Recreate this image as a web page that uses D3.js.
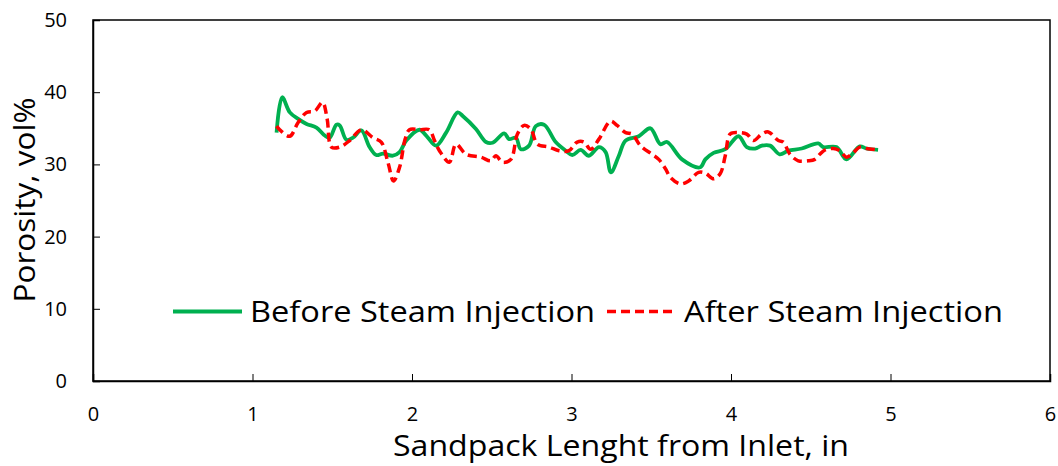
<!DOCTYPE html>
<html>
<head>
<meta charset="utf-8">
<script src="https://cdn.jsdelivr.net/npm/d3@7"></script>
<style>
  body { margin: 0; background: #fff; }
  text { font-family: "Open Sans", Lato, sans-serif; fill: #000; }
</style>
</head>
<body>
<svg id="chart" width="1058" height="466"></svg>
<script>
// Porosity along the sandpack
var beforeX = [1.151, 1.186, 1.234, 1.286, 1.339, 1.401, 1.453, 1.484, 1.526, 1.547, 1.589, 1.63, 1.682, 1.734, 1.776, 1.818, 1.88, 1.922, 1.964, 2.047, 2.089, 2.151, 2.214, 2.286, 2.318, 2.401, 2.464, 2.505, 2.578, 2.609, 2.651, 2.682, 2.734, 2.776, 2.828, 2.901, 2.964, 3.005, 3.057, 3.109, 3.172, 3.214, 3.247, 3.297, 3.339, 3.422, 3.495, 3.557, 3.599, 3.693, 3.807, 3.839, 3.891, 3.964, 4.047, 4.099, 4.151, 4.193, 4.245, 4.305, 4.359, 4.443, 4.547, 4.578, 4.661, 4.724, 4.807, 4.849, 4.922];
var beforeY = [34.4, 39.3, 37.2, 36.3, 35.6, 35.1, 34.0, 33.7, 35.5, 35.4, 33.4, 33.7, 34.7, 32.4, 31.3, 31.5, 31.2, 31.7, 33.3, 34.8, 34.0, 32.6, 34.4, 37.2, 36.7, 34.9, 33.1, 33.0, 34.3, 33.5, 33.7, 32.1, 32.6, 35.3, 35.5, 33.1, 31.9, 31.3, 32.0, 31.2, 32.4, 31.7, 28.9, 31.2, 33.3, 33.9, 35.0, 32.8, 33.1, 30.7, 29.6, 30.7, 31.6, 32.1, 33.9, 32.4, 32.2, 32.6, 32.6, 31.4, 31.9, 32.2, 32.9, 32.4, 32.4, 30.7, 32.5, 32.2, 32.0];

var afterX = [1.151, 1.18, 1.234, 1.286, 1.339, 1.391, 1.439, 1.468, 1.495, 1.547, 1.609, 1.682, 1.755, 1.807, 1.849, 1.884, 1.922, 1.957, 1.984, 2.047, 2.109, 2.141, 2.172, 2.234, 2.276, 2.339, 2.432, 2.495, 2.526, 2.568, 2.62, 2.661, 2.703, 2.745, 2.786, 2.859, 2.922, 2.984, 3.036, 3.078, 3.12, 3.172, 3.245, 3.286, 3.339, 3.38, 3.432, 3.505, 3.547, 3.589, 3.62, 3.682, 3.734, 3.797, 3.839, 3.891, 3.932, 3.964, 3.995, 4.047, 4.099, 4.141, 4.193, 4.234, 4.297, 4.328, 4.37, 4.422, 4.484, 4.526, 4.557, 4.589, 4.641, 4.682, 4.724, 4.766, 4.807, 4.849, 4.922];
var afterY = [35.3, 34.6, 33.9, 35.8, 37.2, 37.4, 38.6, 36.3, 32.4, 32.4, 33.3, 34.8, 33.7, 33.1, 30.3, 27.7, 29.6, 33.5, 34.8, 34.8, 34.8, 33.3, 31.9, 30.3, 32.8, 31.4, 31.0, 30.5, 31.2, 30.3, 30.7, 34.2, 35.4, 34.9, 32.8, 32.4, 31.9, 31.9, 33.1, 33.1, 32.1, 33.5, 36.0, 35.4, 34.4, 34.2, 32.6, 31.4, 30.7, 29.4, 28.2, 27.3, 27.7, 28.9, 28.8, 28.0, 28.7, 31.2, 34.2, 34.4, 34.2, 33.3, 34.2, 34.5, 33.3, 33.1, 31.4, 30.5, 30.5, 30.7, 31.4, 32.0, 32.2, 31.9, 31.0, 31.6, 32.4, 32.2, 32.0];

var xTicks = [0, 1, 2, 3, 4, 5, 6];
var yTicks = [0, 10, 20, 30, 40, 50];
var seriesNames = ["Before Steam Injection", "After Steam Injection"];

var svg = d3.select("#chart");
var plotLeft = 93, plotRight = 1050, plotTop = 20, plotBottom = 381;

var x = d3.scaleLinear().domain([0, 6]).range([plotLeft, plotRight]);
var y = d3.scaleLinear().domain([0, 50]).range([plotBottom, plotTop]);

// plot frame
svg.append("rect")
    .attr("x", plotLeft).attr("y", plotTop)
    .attr("width", plotRight - plotLeft).attr("height", plotBottom - plotTop)
    .attr("fill", "none").attr("stroke", "#000").attr("stroke-width", 1.5);

// axes, ticks pointing inward
var xAxis = svg.append("g")
    .attr("transform", "translate(0," + plotBottom + ")")
    .call(d3.axisBottom(x).tickValues(xTicks).tickFormat(d3.format("d"))
        .tickSize(-7).tickPadding(26));
var yAxis = svg.append("g")
    .attr("transform", "translate(" + plotLeft + ",0)")
    .call(d3.axisLeft(y).tickValues(yTicks).tickFormat(d3.format("d"))
        .tickSize(-7).tickPadding(26));

[xAxis, yAxis].forEach(function(g) {
    g.attr("font-family", null).attr("font-size", 20);
    g.select(".domain").attr("stroke", "#000").attr("stroke-width", 1.5);
    g.selectAll(".tick line").attr("stroke", "#000").attr("stroke-width", 1);
    g.selectAll(".tick text").attr("fill", "#000");
});

// axis titles
svg.append("text")
    .attr("x", 621).attr("y", 456)
    .attr("text-anchor", "middle")
    .attr("font-size", 29)
    .attr("textLength", 456).attr("lengthAdjust", "spacingAndGlyphs")
    .text("Sandpack Lenght from Inlet, in");

svg.append("text")
    .attr("transform", "translate(35,200) rotate(-90)")
    .attr("text-anchor", "middle")
    .attr("font-size", 30)
    .attr("textLength", 205).attr("lengthAdjust", "spacingAndGlyphs")
    .text("Porosity, vol%");

// series
var line = d3.line()
    .x(function(d) { return x(d[0]); })
    .y(function(d) { return y(d[1]); })
    .curve(d3.curveCatmullRom.alpha(0.5));

var before = d3.zip(beforeX, beforeY);
var after = d3.zip(afterX, afterY);

svg.append("path")
    .datum(before)
    .attr("d", line)
    .attr("fill", "none")
    .attr("stroke", "#00B050")
    .attr("stroke-width", 3.8)
    .attr("stroke-linejoin", "round");

svg.append("path")
    .datum(after)
    .attr("d", line)
    .attr("fill", "none")
    .attr("stroke", "#FF0000")
    .attr("stroke-width", 3.5)
    .attr("stroke-dasharray", "9,5");

// legend
var legend = svg.append("g");
legend.append("line")
    .attr("x1", 173).attr("x2", 242).attr("y1", 311.5).attr("y2", 311.5)
    .attr("stroke", "#00B050").attr("stroke-width", 3.8);
legend.append("text")
    .attr("x", 250).attr("y", 322)
    .attr("font-size", 30)
    .attr("textLength", 345).attr("lengthAdjust", "spacingAndGlyphs")
    .text(seriesNames[0]);
legend.append("line")
    .attr("x1", 607).attr("x2", 676).attr("y1", 311.5).attr("y2", 311.5)
    .attr("stroke", "#FF0000").attr("stroke-width", 3.5)
    .attr("stroke-dasharray", "9,5");
legend.append("text")
    .attr("x", 684).attr("y", 322)
    .attr("font-size", 30)
    .attr("textLength", 319).attr("lengthAdjust", "spacingAndGlyphs")
    .text(seriesNames[1]);
</script>
</body>
</html>
